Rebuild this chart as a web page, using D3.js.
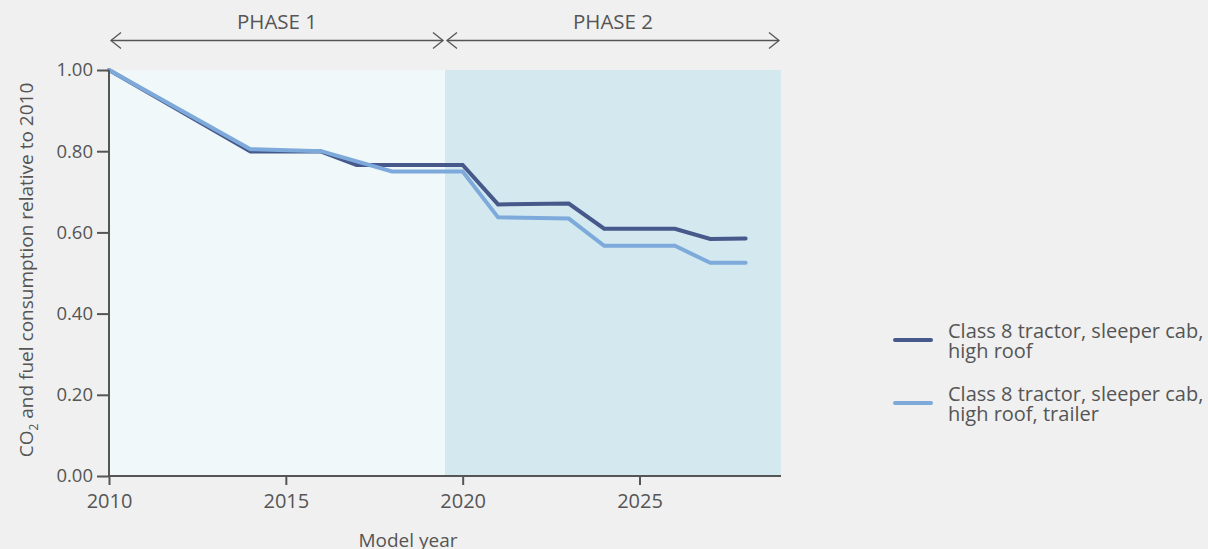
<!DOCTYPE html>
<html><head><meta charset="utf-8">
<script src="https://cdn.jsdelivr.net/npm/d3@7"></script>
<style>
body{margin:0;background:#f0f0f0;}
svg{display:block;font-family:"Open Sans",sans-serif;}
</style></head>
<body><svg id="c" width="1208" height="549"></svg>
<script>
const yearsDark = [2010,2014,2016,2017,2020,2021,2023,2024,2026,2027,2028];
const valuesDark = [1.00,0.799,0.799,0.766,0.766,0.669,0.671,0.609,0.609,0.584,0.585];
const yearsLight = [2010,2014,2016,2018,2020,2021,2023,2024,2026,2027,2028];
const valuesLight = [1.00,0.805,0.800,0.750,0.750,0.637,0.634,0.567,0.567,0.525,0.525];
const seriesNames = [["Class 8 tractor, sleeper cab,","high roof"],["Class 8 tractor, sleeper cab,","high roof, trailer"]];
const seriesColors = ["#46598a","#7eaadb"];
const xTicks = [2010,2015,2020,2025];
const yTicks = [0,0.2,0.4,0.6,0.8,1.0];
const phases = [{label:"PHASE 1",from:2010,to:2019.5,fill:"#f0f8fa"},{label:"PHASE 2",from:2019.5,to:2029,fill:"#d3e9ef"}];

const svg = d3.select("#c");
const x = d3.scaleLinear().domain([2010,2029]).range([109,781]);
const y = d3.scaleLinear().domain([0,1]).range([476,70]);
const txt = "#555";

svg.selectAll("rect.ph").data(phases).enter().append("rect")
  .attr("x",d=>x(d.from)).attr("width",d=>x(d.to)-x(d.from))
  .attr("y",y(1)).attr("height",y(0)-y(1)).attr("fill",d=>d.fill);

const ay = 40.5;
phases.forEach((p,i)=>{
  const x0 = x(p.from)+2, x1 = x(p.to)-2;
  const g = svg.append("g").attr("stroke","#555").attr("stroke-width",1.3).attr("fill","none");
  g.append("line").attr("x1",x0).attr("x2",x1).attr("y1",ay).attr("y2",ay);
  g.append("path").attr("d",`M${x0+10},${ay-8}L${x0},${ay}L${x0+10},${ay+8}`);
  g.append("path").attr("d",`M${x1-10},${ay-8}L${x1},${ay}L${x1-10},${ay+8}`);
  svg.append("text").attr("x",(x0+x1)/2).attr("y",29).attr("text-anchor","middle")
    .attr("fill",txt).attr("font-size",20.5).text(p.label);
});

const line = d3.line().x(d=>x(d[0])).y(d=>y(d[1]));
const dark = yearsDark.map((v,i)=>[v,valuesDark[i]]);
const light = yearsLight.map((v,i)=>[v,valuesLight[i]]);
svg.append("path").datum(dark).attr("d",line).attr("fill","none").attr("stroke",seriesColors[0]).attr("stroke-width",4).attr("stroke-linecap","round");
svg.append("path").datum(light).attr("d",line).attr("fill","none").attr("stroke",seriesColors[1]).attr("stroke-width",4).attr("stroke-linecap","round");

const yAxis = svg.append("g").attr("transform","translate(109,0)")
  .call(d3.axisLeft(y).tickValues(yTicks).tickFormat(d3.format(".2f")).tickSize(12).tickPadding(4));
const xAxis = svg.append("g").attr("transform","translate(0,476)")
  .call(d3.axisBottom(x).tickValues(xTicks).tickFormat(d3.format("d")).tickSize(9).tickPadding(9));
[yAxis,xAxis].forEach(a=>{
  a.select(".domain").attr("stroke","#555").attr("stroke-width",2);
  a.selectAll(".tick line").attr("stroke","#555").attr("stroke-width",2);
  a.selectAll(".tick text").attr("fill",txt).attr("font-family","'Open Sans',sans-serif");
});
yAxis.selectAll(".tick text").attr("font-size",18.5);
xAxis.selectAll(".tick text").attr("font-size",20);
yAxis.select(".domain").attr("d","M0,70V476");
xAxis.select(".domain").attr("d","M109,0H781");

svg.append("text").attr("x",408).attr("y",547).attr("text-anchor","middle").attr("fill",txt).attr("font-size",19).text("Model year");
const yt = svg.append("text").attr("transform","translate(33,270) rotate(-90)").attr("text-anchor","middle").attr("fill",txt).attr("font-size",19);
yt.append("tspan").text("CO");
yt.append("tspan").attr("font-size",12).attr("dy",5).text("2");
yt.append("tspan").attr("dy",-5).text(" and fuel consumption relative to 2010");

const legY = [340,403];
seriesNames.forEach((n,i)=>{
  svg.append("line").attr("x1",895).attr("x2",931).attr("y1",legY[i]).attr("y2",legY[i])
    .attr("stroke",seriesColors[i]).attr("stroke-width",4).attr("stroke-linecap","round");
  n.forEach((s,j)=>svg.append("text").attr("x",948).attr("y",legY[i]-2+j*20)
    .attr("fill",txt).attr("font-size",20).text(s));
});
</script></body></html>
